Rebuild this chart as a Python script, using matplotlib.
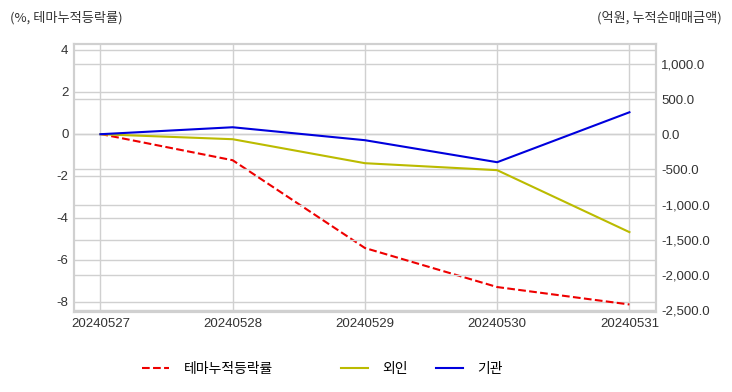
import numpy as np
import matplotlib
matplotlib.use("Agg")
import matplotlib.pyplot as plt
from matplotlib.ticker import FuncFormatter

plt.rcParams['font.family'] = ['Noto Sans CJK KR', 'DejaVu Sans']
plt.rcParams['axes.unicode_minus'] = False

dates = ['20240527', '20240528', '20240529', '20240530', '20240531']
theme_ret = [0.0, -1.25, -5.43, -7.29, -8.12]      # %, left axis
foreign = [0.0, -71, -412, -511, -1392]             # 억원, right axis
inst = [0.0, 99, -85, -398, 312]                    # 억원, right axis

grid_c = '#d0d0d0'
txt_c = '#333333'

fig = plt.figure(figsize=(7.32, 3.92), dpi=100)
ax1 = fig.add_axes([0.101, 0.204, 0.795, 0.684])
ax2 = ax1.twinx()

x = np.arange(len(dates))
l1, = ax1.plot(x, theme_ret, color='#ee0000', ls='--', lw=1.5, label='테마누적등락률')
l2, = ax2.plot(x, foreign, color='#bbbb00', lw=1.5, label='외인')
l3, = ax2.plot(x, inst, color='#0000dd', lw=1.5, label='기관')

ax1.set_xlim(-0.2, 4.2)
ax1.set_ylim(-8.48, 4.29)
ax2.set_ylim(-2528, 1284)
ax1.set_xticks(x)
ax1.set_xticklabels(dates)
ax1.set_yticks([4, 2, 0, -2, -4, -6, -8])
ax2.set_yticks([1000, 500, 0, -500, -1000, -1500, -2000, -2500])
ax2.yaxis.set_major_formatter(FuncFormatter(lambda v, p: f'{v:,.1f}'))

for ax in (ax1, ax2):
    ax.grid(True, color=grid_c, lw=1)
    ax.set_axisbelow(True)
    ax.tick_params(length=0, labelsize=9.5, labelcolor=txt_c, pad=4)
    for lab in ax.get_xticklabels() + ax.get_yticklabels():
        lab.set_family('Liberation Sans')
    for s in ax.spines.values():
        s.set_color(grid_c)
        s.set_linewidth(1.5)
ax2.xaxis.grid(False)

fig.text(0.014, 0.955, '(%, 테마누적등락률)', fontsize=9.5, color=txt_c, ha='left', va='center')
fig.text(0.986, 0.955, '(억원, 누적순매매금액)', fontsize=9.5, color=txt_c, ha='right', va='center')

fig.legend(handles=[l1], loc='center', bbox_to_anchor=(0.283, 0.058), frameon=False,
           fontsize=10, handlelength=2, handletextpad=1.0)
fig.legend(handles=[l2, l3], loc='center', bbox_to_anchor=(0.576, 0.058), frameon=False,
           fontsize=10, handlelength=2, handletextpad=1.0, ncol=2, columnspacing=2.0)

fig.savefig('out.png', dpi=100)
